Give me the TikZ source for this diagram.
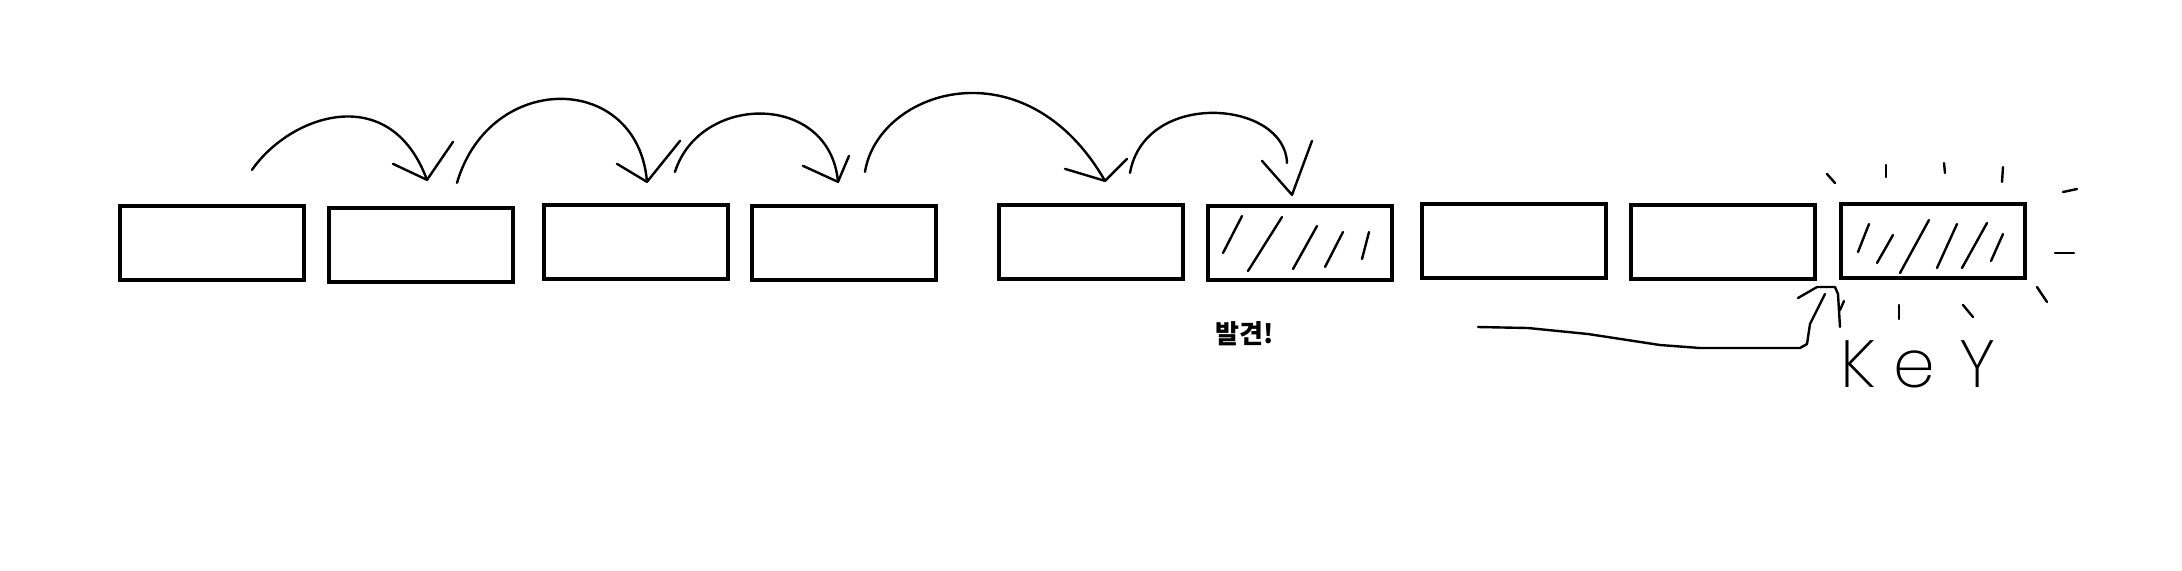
\documentclass[tikz,border=0pt]{standalone}
\usepackage{fontspec}
\usepackage{tikz}
\usetikzlibrary{positioning,calc}
\newfontfamily\kofont{Noto Sans CJK KR}
\newfontfamily\keyfont{Poppins}[UprightFont=* ExtraLight]

\begin{document}
\begin{tikzpicture}[x=0.1mm,y=-0.1mm,
  cell/.style={draw,line width=0.43mm,minimum width=18.4mm,minimum height=7.4mm,inner sep=0pt},
  hand/.style={line width=0.24mm,line cap=round,line join=round}]
  \useasboundingbox (0,0) rectangle (2182,570);
  % the array
  \node[cell] (arr1) at (212,243) {};
  \node[cell] (arr2) at (421,245) {};
  \node[cell] (arr3) at (636,242) {};
  \node[cell] (arr4) at (844,243) {};
  \node[cell] (arr5) at (1091,242) {};
  \node[cell] (arr6) at (1300,243) {};
  \node[cell] (arr7) at (1514,241) {};
  \node[cell] (arr8) at (1723,242) {};
  \node[cell] (arr9) at (1933,241) {};
  % jumps
  \coordinate (s1) at ($(arr1.north)+(40,-34)$);
  \coordinate (t1) at ($(arr2.north)+(6,-26)$);
  \draw[hand] (s1) .. controls (290,115) and (390,80) .. (t1);
  \draw[hand] ($(t1)+(-34,-16)$) -- (t1) -- ($(t1)+(26,-38)$);
  \coordinate (s2) at ($(arr2.north)+(36,-23)$);
  \coordinate (t2) at ($(arr3.north)+(11,-21)$);
  \draw[hand] (s2) .. controls (490,70) and (638,72) .. (t2);
  \draw[hand] ($(t2)+(-30,-18)$) -- (t2) -- ($(t2)+(33,-41)$);
  \coordinate (s3) at ($(arr3.north)+(39,-31)$);
  \coordinate (t3) at ($(arr4.north)+(-6,-22)$);
  \draw[hand] (s3) .. controls (700,93) and (830,92) .. (t3);
  \draw[hand] ($(t3)+(-35,-16)$) -- (t3) -- ($(t3)+(11,-26)$);
  \coordinate (s4) at ($(arr4.north)+(21,-32)$);
  \coordinate (t4) at ($(arr5.north)+(14,-22)$);
  \draw[hand] (s4) .. controls (878,90) and (1025,42) .. (t4);
  \draw[hand] ($(t4)+(-40,-12)$) -- (t4) -- ($(t4)+(22,-22)$);
  \coordinate (s5) at ($(arr5.north)+(39,-30)$);
  \coordinate (e5) at (1287,163);
  \coordinate (t5) at ($(arr6.north)+(-8,-9)$);
  \draw[hand] (s5) .. controls (1145,89) and (1285,100) .. (e5);
  \draw[hand] ($(t5)+(-30,-34)$) -- (t5) -- ($(t5)+(20,-54)$);
  % found / key shine
  \foreach \xa/\ya/\xb/\yb in {1242/216/1223/253, 1282/217/1248/271, 1317/226/1293/269,
      1343/232/1325/267, 1369/232/1362/259}
    \draw[hand] (\xa,\ya) -- (\xb,\yb);
  \foreach \xa/\ya/\xb/\yb in {1869/224/1858/252, 1893/235/1877/263, 1929/220/1900/273,
      1957/224/1937/268, 1987/223/1962/268, 2003/234/1991/261}
    \draw[hand] (\xa,\ya) -- (\xb,\yb);
  \foreach \xa/\ya/\xb/\yb in {1827/174/1835/183, 1886/165/1886/177, 1944/163/1945/173,
      2003/167/2002/182, 2063/192/2077/189, 2055/253/2074/253, 2037/287/2047/302,
      1899/305/1899/319, 1963/305/1973/317}
    \draw[hand] (\xa,\ya) -- (\xb,\yb);
  \node[font={\kofont\bfseries\fontsize{7.4pt}{9pt}\selectfont}] (found) at (1245,334) {발견!};
  \node[font={\keyfont\fontsize{19pt}{22pt}\selectfont},anchor=base,inner sep=0pt] (keylbl) at (1918,387) {K\hspace{5pt}e\hspace{7pt}Y};
  % pointer to the key
  \coordinate (ktail) at (1478,327);
  \coordinate (ktip) at (1825,294);
  \draw[hand] (ktail) -- (1528,328) -- (1588,334) -- (1660,345) -- (1700,348)
    -- (1800,348) -- (1807,344) -- (1810,324) -- (ktip);
  \draw[hand] (1798,298) -- (1817,287) -- (1835,287) -- (1838,294) -- (1840,327);
  \draw[hand] (1844,301) -- (1840,310);
\end{tikzpicture}
\end{document}
